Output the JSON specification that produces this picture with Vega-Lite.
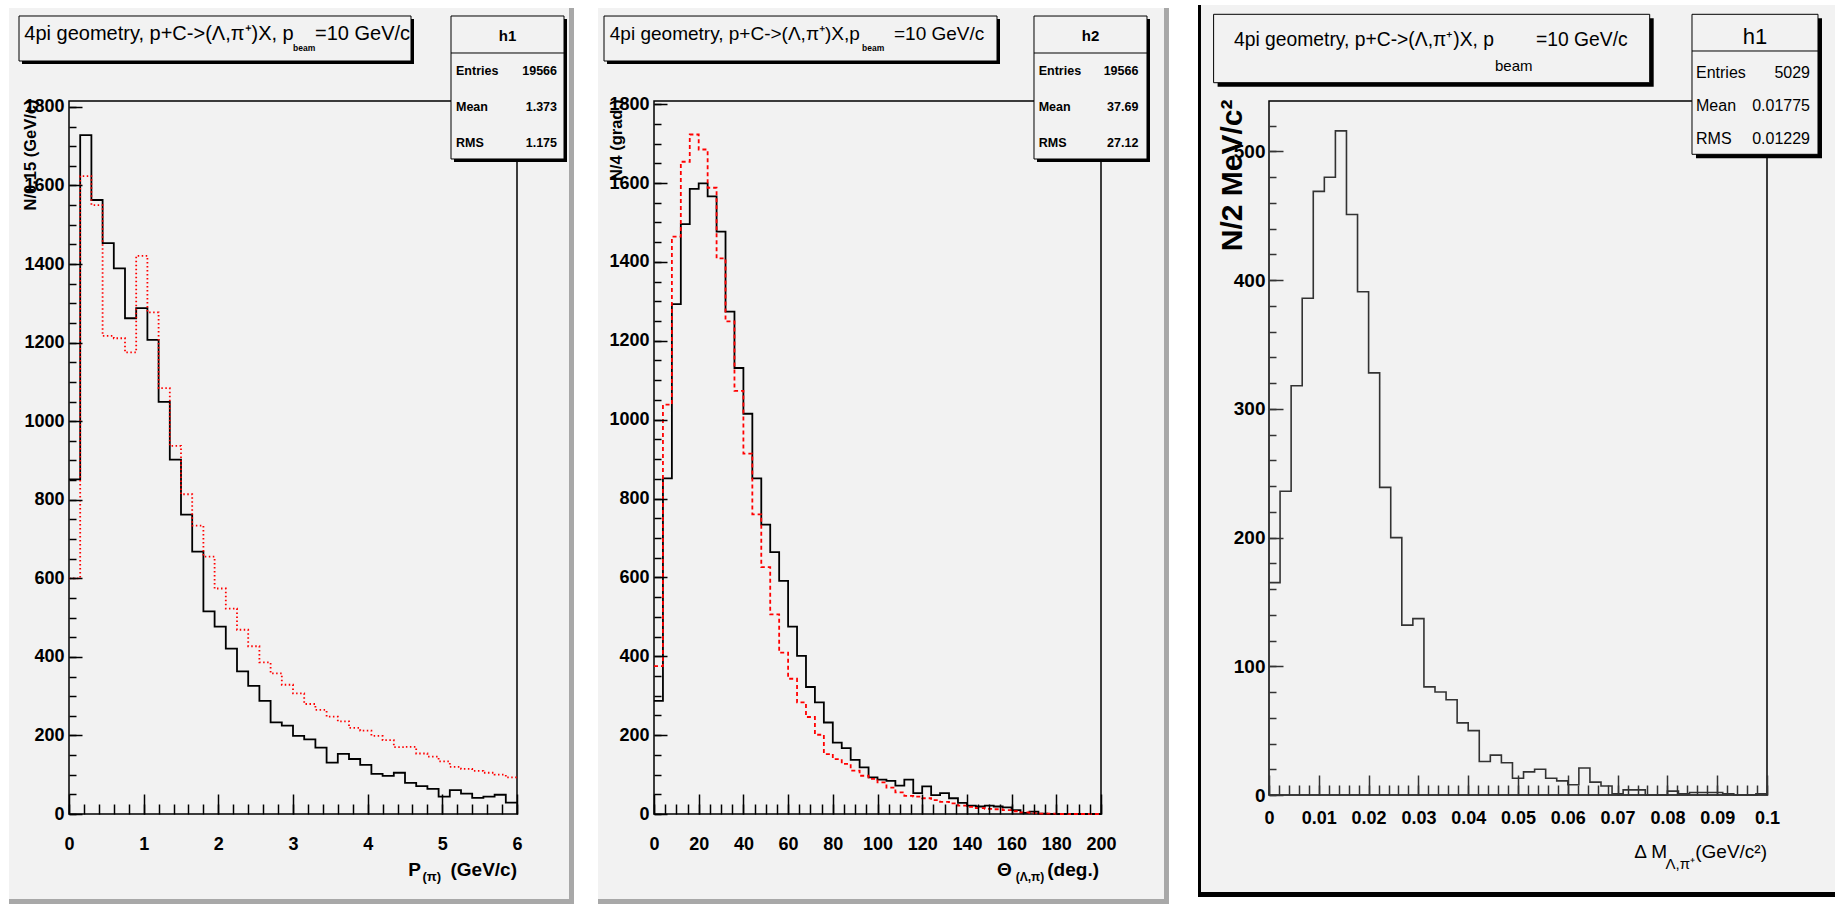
{
  "$schema": "https://vega.github.io/schema/vega-lite/v6.json",
  "background": "#ffffff",
  "padding": {"left": 8, "top": 4, "right": 0, "bottom": 5},
  "bounds": "flush",
  "spacing": 137,
  "config": {
    "view": {"stroke": null, "fill": null},
    "axis": {"domain": false, "grid": false, "tickColor": "#000", "tickWidth": 1.5, "labelColor": "#000", "titleColor": "#000"}
  },
  "datasets": {
    "p1_black": [{"p":0,"n":852},{"p":0.15,"n":1728},{"p":0.3,"n":1563},{"p":0.45,"n":1453},{"p":0.6,"n":1389},{"p":0.75,"n":1262},{"p":0.9,"n":1288},{"p":1.05,"n":1207},{"p":1.2,"n":1049},{"p":1.35,"n":902},{"p":1.5,"n":762},{"p":1.65,"n":668},{"p":1.8,"n":516},{"p":1.95,"n":477},{"p":2.1,"n":421},{"p":2.25,"n":363},{"p":2.4,"n":326},{"p":2.55,"n":288},{"p":2.7,"n":233},{"p":2.85,"n":225},{"p":3,"n":199},{"p":3.15,"n":190},{"p":3.3,"n":169},{"p":3.45,"n":131},{"p":3.6,"n":153},{"p":3.75,"n":140},{"p":3.9,"n":125},{"p":4.05,"n":102},{"p":4.2,"n":97},{"p":4.35,"n":105},{"p":4.5,"n":79},{"p":4.65,"n":71},{"p":4.8,"n":64},{"p":4.95,"n":44},{"p":5.1,"n":61},{"p":5.25,"n":52},{"p":5.4,"n":41},{"p":5.55,"n":44},{"p":5.7,"n":49},{"p":5.85,"n":29},{"p":6,"n":29}],
    "p1_red": [{"p":0,"n":600},{"p":0.15,"n":1624},{"p":0.3,"n":1550},{"p":0.45,"n":1217},{"p":0.6,"n":1211},{"p":0.75,"n":1175},{"p":0.9,"n":1421},{"p":1.05,"n":1277},{"p":1.2,"n":1084},{"p":1.35,"n":937},{"p":1.5,"n":814},{"p":1.65,"n":734},{"p":1.8,"n":655},{"p":1.95,"n":574},{"p":2.1,"n":523},{"p":2.25,"n":469},{"p":2.4,"n":427},{"p":2.55,"n":386},{"p":2.7,"n":358},{"p":2.85,"n":329},{"p":3,"n":307},{"p":3.15,"n":280},{"p":3.3,"n":265},{"p":3.45,"n":248},{"p":3.6,"n":236},{"p":3.75,"n":219},{"p":3.9,"n":212},{"p":4.05,"n":199},{"p":4.2,"n":188},{"p":4.35,"n":170},{"p":4.5,"n":171},{"p":4.65,"n":154},{"p":4.8,"n":146},{"p":4.95,"n":134},{"p":5.1,"n":120},{"p":5.25,"n":115},{"p":5.4,"n":110},{"p":5.55,"n":105},{"p":5.7,"n":100},{"p":5.85,"n":93},{"p":6,"n":93}],
    "p2_black": [{"t":0,"n":287},{"t":4,"n":851},{"t":8,"n":1293},{"t":12,"n":1496},{"t":16,"n":1585},{"t":20,"n":1599},{"t":24,"n":1566},{"t":28,"n":1477},{"t":32,"n":1274},{"t":36,"n":1131},{"t":40,"n":1015},{"t":44,"n":851},{"t":48,"n":734},{"t":52,"n":664},{"t":56,"n":591},{"t":60,"n":475},{"t":64,"n":401},{"t":68,"n":322},{"t":72,"n":283},{"t":76,"n":232},{"t":80,"n":181},{"t":84,"n":167},{"t":88,"n":137},{"t":92,"n":118},{"t":96,"n":93},{"t":100,"n":87},{"t":104,"n":84},{"t":108,"n":72},{"t":112,"n":87},{"t":116,"n":53},{"t":120,"n":70},{"t":124,"n":48},{"t":128,"n":53},{"t":132,"n":40},{"t":136,"n":28},{"t":140,"n":21},{"t":144,"n":19},{"t":148,"n":21},{"t":152,"n":19},{"t":156,"n":17},{"t":160,"n":10},{"t":164,"n":3},{"t":168,"n":6},{"t":172,"n":1},{"t":176,"n":0},{"t":180,"n":0},{"t":184,"n":0},{"t":188,"n":0},{"t":192,"n":0},{"t":196,"n":0},{"t":200,"n":0}],
    "p2_red": [{"t":0,"n":375},{"t":4,"n":1038},{"t":8,"n":1464},{"t":12,"n":1654},{"t":16,"n":1723},{"t":20,"n":1685},{"t":24,"n":1588},{"t":28,"n":1409},{"t":32,"n":1249},{"t":36,"n":1073},{"t":40,"n":914},{"t":44,"n":760},{"t":48,"n":626},{"t":52,"n":506},{"t":56,"n":409},{"t":60,"n":343},{"t":64,"n":283},{"t":68,"n":246},{"t":72,"n":201},{"t":76,"n":152},{"t":80,"n":139},{"t":84,"n":127},{"t":88,"n":110},{"t":92,"n":97},{"t":96,"n":89},{"t":100,"n":80},{"t":104,"n":67},{"t":108,"n":55},{"t":112,"n":46},{"t":116,"n":44},{"t":120,"n":40},{"t":124,"n":35},{"t":128,"n":31},{"t":132,"n":27},{"t":136,"n":21},{"t":140,"n":18},{"t":144,"n":15},{"t":148,"n":13},{"t":152,"n":12},{"t":156,"n":10},{"t":160,"n":7},{"t":164,"n":4},{"t":168,"n":2},{"t":172,"n":1},{"t":176,"n":1},{"t":180,"n":0},{"t":184,"n":0},{"t":188,"n":0},{"t":192,"n":0},{"t":196,"n":0},{"t":200,"n":0}],
    "p3": [{"m":0,"n":165},{"m":0.002222,"n":236},{"m":0.004444,"n":318},{"m":0.006667,"n":386},{"m":0.008889,"n":469},{"m":0.011111,"n":480},{"m":0.013333,"n":516},{"m":0.015556,"n":451},{"m":0.017778,"n":391},{"m":0.02,"n":328},{"m":0.022222,"n":239},{"m":0.024444,"n":200},{"m":0.026667,"n":132},{"m":0.028889,"n":137},{"m":0.031111,"n":84},{"m":0.033333,"n":80},{"m":0.035556,"n":74},{"m":0.037778,"n":56},{"m":0.04,"n":50},{"m":0.042222,"n":26},{"m":0.044444,"n":31},{"m":0.046667,"n":25},{"m":0.048889,"n":13},{"m":0.051111,"n":18},{"m":0.053333,"n":20},{"m":0.055556,"n":13},{"m":0.057778,"n":11},{"m":0.06,"n":8},{"m":0.062222,"n":21},{"m":0.064444,"n":10},{"m":0.066667,"n":7},{"m":0.068889,"n":1},{"m":0.071111,"n":4},{"m":0.073333,"n":4},{"m":0.075556,"n":0},{"m":0.077778,"n":0},{"m":0.08,"n":3},{"m":0.082222,"n":1},{"m":0.084444,"n":2},{"m":0.086667,"n":2},{"m":0.088889,"n":2},{"m":0.091111,"n":1},{"m":0.093333,"n":0},{"m":0.095556,"n":0},{"m":0.097778,"n":1},{"m":0.1,"n":1}]
  },
  "hconcat": [
    {
      "width": 448, "height": 713,
      "resolve": {"axis": {"x": "independent", "y": "independent"}},
      "layer": [
        {"data": {"values": [{}]}, "mark": {"type": "rect", "fill": "#a8a8a8", "clip": false}, "encoding": {"x": {"datum": -0.8036, "type": "quantitative", "axis": null}, "x2": {"datum": 6.7634}, "y": {"datum": 2051.7, "type": "quantitative", "axis": null}, "y2": {"datum": -229.1}}},
        {"data": {"values": [{}]}, "mark": {"type": "rect", "fill": "#f2f2f2", "clip": false}, "encoding": {"x": {"datum": -0.8036, "type": "quantitative", "axis": null}, "x2": {"datum": 6.6964}, "y": {"datum": 2051.7, "type": "quantitative", "axis": null}, "y2": {"datum": -216.4}}},
        {"data": {"values": [{}]}, "mark": {"type": "rect", "fill": "#000", "clip": false}, "encoding": {"x": {"datum": -0.6295, "type": "quantitative", "axis": null}, "x2": {"datum": 4.6205}, "y": {"datum": 2023.7, "type": "quantitative", "axis": null}, "y2": {"datum": 1909.2}}},
        {"data": {"values": [{}]}, "mark": {"type": "rect", "fill": "#f2f2f2", "stroke": "#000", "strokeWidth": 1, "clip": false}, "encoding": {"x": {"datum": -0.6696, "type": "quantitative", "axis": null}, "x2": {"datum": 4.5804}, "y": {"datum": 2031.4, "type": "quantitative", "axis": null}, "y2": {"datum": 1916.8}}},
        {"data": {"values": [{}]}, "mark": {"type": "rect", "filled": false, "stroke": "#000", "strokeWidth": 1.5, "clip": false},
         "encoding": {
           "x": {"datum": 0, "type": "quantitative", "axis": {"orient": "bottom", "zindex": 1, "values": [0,0.2,0.4,0.6,0.8,1,1.2,1.4,1.6,1.8,2,2.2,2.4,2.6,2.8,3,3.2,3.4,3.6,3.8,4,4.2,4.4,4.6,4.8,5,5.2,5.4,5.6,5.8,6], "labels": false, "title": null, "domain": false, "grid": false, "offset": -10, "tickSize": 10, "tickColor": "#000", "tickWidth": 1.5}},
           "x2": {"datum": 6},
           "y": {"datum": 0, "type": "quantitative", "axis": {"orient": "left", "zindex": 1, "values": [0,50,100,150,200,250,300,350,400,450,500,550,600,650,700,750,800,850,900,950,1000,1050,1100,1150,1200,1250,1300,1350,1400,1450,1500,1550,1600,1650,1700,1750,1800], "labels": false, "title": null, "domain": false, "grid": false, "offset": -7, "tickSize": 7, "tickColor": "#000", "tickWidth": 1.5}},
           "y2": {"datum": 1815}}},
        {"data": {"name": "p1_black"}, "mark": {"type": "line", "interpolate": "step-after", "color": "#000", "strokeWidth": 1.8},
         "encoding": {
           "x": {"field": "p", "type": "quantitative", "scale": {"domain": [0, 6], "nice": false, "zero": false},
                 "axis": {"orient": "bottom", "zindex": 1, "values": [0,1,2,3,4,5,6], "title": null, "format": "d", "domain": false, "grid": false, "offset": -20, "tickSize": 20, "tickColor": "#000", "tickWidth": 1.5,
                          "labelPadding": 21.7, "labelFont": "Liberation Sans", "labelFontSize": 18, "labelFontWeight": "bold", "labelColor": "#000", "labelOverlap": false, "labelFlush": false}},
           "y": {"field": "n", "type": "quantitative", "scale": {"domain": [0, 1815], "nice": false, "zero": false},
                 "axis": {"orient": "left", "zindex": 1, "values": [0,200,400,600,800,1000,1200,1400,1600,1800], "format": "d", "domain": false, "grid": false, "offset": -13, "tickSize": 13, "tickColor": "#000", "tickWidth": 1.5,
                          "labelPadding": 5, "labelFont": "Liberation Sans", "labelFontSize": 18, "labelFontWeight": "bold", "labelColor": "#000", "labelOverlap": false, "labelFlush": false,
                          "title": "N/0.15 (GeV/c)", "titleFont": "Liberation Sans", "titleFontSize": 16.5, "titleFontWeight": "bold", "titleColor": "#000", "titleAngle": 270, "titleAlign": "right", "titleBaseline": "middle", "titleX": -52, "titleY": -2}}
         }},
        {"data": {"name": "p1_red"}, "mark": {"type": "line", "interpolate": "step-after", "color": "#ff0000", "strokeWidth": 1.8, "strokeDash": [1.5, 2.5]},
         "encoding": {"x": {"field": "p", "type": "quantitative", "axis": null}, "y": {"field": "n", "type": "quantitative", "axis": null}}},
        {"data": {"values": [{}]}, "mark": {"type": "rect", "fill": "#000", "clip": false}, "encoding": {"x": {"datum": 5.1563, "type": "quantitative", "axis": null}, "x2": {"datum": 6.6696}, "y": {"datum": 2023.7, "type": "quantitative", "axis": null}, "y2": {"datum": 1659.7}}},
        {"data": {"values": [{}]}, "mark": {"type": "rect", "fill": "#f2f2f2", "stroke": "#000", "strokeWidth": 1, "clip": false}, "encoding": {"x": {"datum": 5.1161, "type": "quantitative", "axis": null}, "x2": {"datum": 6.6295}, "y": {"datum": 2031.4, "type": "quantitative", "axis": null}, "y2": {"datum": 1667.4}}},
        {"data": {"values": [{}]}, "mark": {"type": "rule", "color": "#000", "strokeWidth": 1, "clip": false}, "encoding": {"x": {"datum": 5.1161, "type": "quantitative", "axis": null}, "x2": {"datum": 6.6295}, "y": {"datum": 1937.2, "type": "quantitative", "axis": null}}},
        {"data": {"values": [{}]}, "mark": {"type": "text", "text": "4pi geometry, p+C->(Λ,π⁺)X, p", "align": "left", "baseline": "alphabetic", "dx": -44.7, "dy": -61, "font": "Liberation Sans", "fontSize": 20, "color": "#000", "clip": false}, "encoding": {"x": {"datum": 0, "type": "quantitative", "axis": null}, "y": {"datum": 1815, "type": "quantitative", "axis": null}}},
        {"data": {"values": [{}]}, "mark": {"type": "text", "text": "beam", "align": "left", "baseline": "alphabetic", "dx": 224, "dy": -50, "font": "Liberation Sans", "fontSize": 8.5, "fontWeight": "bold", "color": "#000", "clip": false}, "encoding": {"x": {"datum": 0, "type": "quantitative", "axis": null}, "y": {"datum": 1815, "type": "quantitative", "axis": null}}},
        {"data": {"values": [{}]}, "mark": {"type": "text", "text": "=10 GeV/c", "align": "left", "baseline": "alphabetic", "dx": 246, "dy": -61, "font": "Liberation Sans", "fontSize": 20, "color": "#000", "clip": false}, "encoding": {"x": {"datum": 0, "type": "quantitative", "axis": null}, "y": {"datum": 1815, "type": "quantitative", "axis": null}}},
        {"data": {"values": [{}]}, "mark": {"type": "text", "text": "h1", "align": "center", "baseline": "alphabetic", "dx": -9.5, "dy": -60, "font": "Liberation Sans", "fontSize": 15, "fontWeight": "bold", "color": "#000", "clip": false}, "encoding": {"x": {"datum": 6, "type": "quantitative", "axis": null}, "y": {"datum": 1815, "type": "quantitative", "axis": null}}},
        {"data": {"values": [{}]}, "mark": {"type": "text", "text": ["Entries", "Mean", "RMS"], "lineHeight": 35.8, "align": "left", "baseline": "alphabetic", "dx": -61, "dy": -26, "font": "Liberation Sans", "fontSize": 12.5, "fontWeight": "bold", "color": "#000", "clip": false}, "encoding": {"x": {"datum": 6, "type": "quantitative", "axis": null}, "y": {"datum": 1815, "type": "quantitative", "axis": null}}},
        {"data": {"values": [{}]}, "mark": {"type": "text", "text": ["19566", "1.373", "1.175"], "lineHeight": 35.8, "align": "right", "baseline": "alphabetic", "dx": 40, "dy": -26, "font": "Liberation Sans", "fontSize": 12.5, "fontWeight": "bold", "color": "#000", "clip": false}, "encoding": {"x": {"datum": 6, "type": "quantitative", "axis": null}, "y": {"datum": 1815, "type": "quantitative", "axis": null}}},
        {"data": {"values": [{}]}, "mark": {"type": "text", "text": "(GeV/c)", "align": "right", "baseline": "alphabetic", "dx": 0, "dy": 61.7, "font": "Liberation Sans", "fontSize": 19, "fontWeight": "bold", "color": "#000", "clip": false}, "encoding": {"x": {"datum": 6, "type": "quantitative", "axis": null}, "y": {"datum": 0, "type": "quantitative", "axis": null}}},
        {"data": {"values": [{}]}, "mark": {"type": "text", "text": "(π)", "align": "right", "baseline": "alphabetic", "dx": -76, "dy": 67, "font": "Liberation Sans", "fontSize": 13, "fontWeight": "bold", "color": "#000", "clip": false}, "encoding": {"x": {"datum": 6, "type": "quantitative", "axis": null}, "y": {"datum": 0, "type": "quantitative", "axis": null}}},
        {"data": {"values": [{}]}, "mark": {"type": "text", "text": "P", "align": "right", "baseline": "alphabetic", "dx": -96, "dy": 61.7, "font": "Liberation Sans", "fontSize": 19, "fontWeight": "bold", "color": "#000", "clip": false}, "encoding": {"x": {"datum": 6, "type": "quantitative", "axis": null}, "y": {"datum": 0, "type": "quantitative", "axis": null}}}
      ]
    },
    {
      "width": 478, "height": 713,
      "resolve": {"axis": {"x": "independent", "y": "independent"}},
      "layer": [
        {"data": {"values": [{}]}, "mark": {"type": "rect", "fill": "#a8a8a8", "clip": false}, "encoding": {"x": {"datum": -25.056, "type": "quantitative", "axis": null}, "x2": {"datum": 230.42}, "y": {"datum": 2043.8, "type": "quantitative", "axis": null}, "y2": {"datum": -228.2}}},
        {"data": {"values": [{}]}, "mark": {"type": "rect", "fill": "#f2f2f2", "clip": false}, "encoding": {"x": {"datum": -25.056, "type": "quantitative", "axis": null}, "x2": {"datum": 228.19}, "y": {"datum": 2043.8, "type": "quantitative", "axis": null}, "y2": {"datum": -215.5}}},
        {"data": {"values": [{}]}, "mark": {"type": "rect", "fill": "#000", "clip": false}, "encoding": {"x": {"datum": -21.03, "type": "quantitative", "axis": null}, "x2": {"datum": 154.81}, "y": {"datum": 2015.9, "type": "quantitative", "axis": null}, "y2": {"datum": 1901.8}}},
        {"data": {"values": [{}]}, "mark": {"type": "rect", "fill": "#f2f2f2", "stroke": "#000", "strokeWidth": 1, "clip": false}, "encoding": {"x": {"datum": -22.37, "type": "quantitative", "axis": null}, "x2": {"datum": 153.47}, "y": {"datum": 2023.5, "type": "quantitative", "axis": null}, "y2": {"datum": 1909.4}}},
        {"data": {"values": [{}]}, "mark": {"type": "rect", "filled": false, "stroke": "#000", "strokeWidth": 1.5, "clip": false},
         "encoding": {
           "x": {"datum": 0, "type": "quantitative", "axis": {"orient": "bottom", "zindex": 1, "values": [0,5,10,15,20,25,30,35,40,45,50,55,60,65,70,75,80,85,90,95,100,105,110,115,120,125,130,135,140,145,150,155,160,165,170,175,180,185,190,195,200], "labels": false, "title": null, "domain": false, "grid": false, "offset": -10, "tickSize": 10, "tickColor": "#000", "tickWidth": 1.5}},
           "x2": {"datum": 200},
           "y": {"datum": 0, "type": "quantitative", "axis": {"orient": "left", "zindex": 1, "values": [0,50,100,150,200,250,300,350,400,450,500,550,600,650,700,750,800,850,900,950,1000,1050,1100,1150,1200,1250,1300,1350,1400,1450,1500,1550,1600,1650,1700,1750,1800], "labels": false, "title": null, "domain": false, "grid": false, "offset": -7, "tickSize": 7, "tickColor": "#000", "tickWidth": 1.5}},
           "y2": {"datum": 1808}}},
        {"data": {"name": "p2_black"}, "mark": {"type": "line", "interpolate": "step-after", "color": "#000", "strokeWidth": 1.8},
         "encoding": {
           "x": {"field": "t", "type": "quantitative", "scale": {"domain": [0, 213.87], "nice": false, "zero": false},
                 "axis": {"orient": "bottom", "zindex": 1, "values": [0,20,40,60,80,100,120,140,160,180,200], "title": null, "format": "d", "domain": false, "grid": false, "offset": -20, "tickSize": 20, "tickColor": "#000", "tickWidth": 1.5,
                          "labelPadding": 21.7, "labelFont": "Liberation Sans", "labelFontSize": 18, "labelFontWeight": "bold", "labelColor": "#000", "labelOverlap": false, "labelFlush": false}},
           "y": {"field": "n", "type": "quantitative", "scale": {"domain": [0, 1808], "nice": false, "zero": false},
                 "axis": {"orient": "left", "zindex": 1, "values": [0,200,400,600,800,1000,1200,1400,1600,1800], "format": "d", "domain": false, "grid": false, "offset": -13, "tickSize": 13, "tickColor": "#000", "tickWidth": 1.5,
                          "labelPadding": 5, "labelFont": "Liberation Sans", "labelFontSize": 18, "labelFontWeight": "bold", "labelColor": "#000", "labelOverlap": false, "labelFlush": false,
                          "title": "N/4 (grad.)", "titleFont": "Liberation Sans", "titleFontSize": 16.5, "titleFontWeight": "bold", "titleColor": "#000", "titleAngle": 270, "titleAlign": "right", "titleBaseline": "middle", "titleX": -51, "titleY": -2}}
         }},
        {"data": {"name": "p2_red"}, "mark": {"type": "line", "interpolate": "step-after", "color": "#ff0000", "strokeWidth": 1.8, "strokeDash": [4, 3]},
         "encoding": {"x": {"field": "t", "type": "quantitative", "axis": null}, "y": {"field": "n", "type": "quantitative", "axis": null}}},
        {"data": {"values": [{}]}, "mark": {"type": "rect", "fill": "#000", "clip": false}, "encoding": {"x": {"datum": 171.36, "type": "quantitative", "axis": null}, "x2": {"datum": 221.92}, "y": {"datum": 2015.9, "type": "quantitative", "axis": null}, "y2": {"datum": 1653.3}}},
        {"data": {"values": [{}]}, "mark": {"type": "rect", "fill": "#f2f2f2", "stroke": "#000", "strokeWidth": 1, "clip": false}, "encoding": {"x": {"datum": 170.02, "type": "quantitative", "axis": null}, "x2": {"datum": 220.58}, "y": {"datum": 2023.5, "type": "quantitative", "axis": null}, "y2": {"datum": 1660.9}}},
        {"data": {"values": [{}]}, "mark": {"type": "rule", "color": "#000", "strokeWidth": 1, "clip": false}, "encoding": {"x": {"datum": 170.02, "type": "quantitative", "axis": null}, "x2": {"datum": 220.58}, "y": {"datum": 1929.7, "type": "quantitative", "axis": null}}},
        {"data": {"values": [{}]}, "mark": {"type": "text", "text": "4pi geometry, p+C->(Λ,π⁺)X,p", "align": "left", "baseline": "alphabetic", "dx": -44.2, "dy": -61, "font": "Liberation Sans", "fontSize": 19, "color": "#000", "clip": false}, "encoding": {"x": {"datum": 0, "type": "quantitative", "axis": null}, "y": {"datum": 1808, "type": "quantitative", "axis": null}}},
        {"data": {"values": [{}]}, "mark": {"type": "text", "text": "beam", "align": "left", "baseline": "alphabetic", "dx": 208, "dy": -50, "font": "Liberation Sans", "fontSize": 8.5, "fontWeight": "bold", "color": "#000", "clip": false}, "encoding": {"x": {"datum": 0, "type": "quantitative", "axis": null}, "y": {"datum": 1808, "type": "quantitative", "axis": null}}},
        {"data": {"values": [{}]}, "mark": {"type": "text", "text": "=10 GeV/c", "align": "left", "baseline": "alphabetic", "dx": 240, "dy": -61, "font": "Liberation Sans", "fontSize": 19, "color": "#000", "clip": false}, "encoding": {"x": {"datum": 0, "type": "quantitative", "axis": null}, "y": {"datum": 1808, "type": "quantitative", "axis": null}}},
        {"data": {"values": [{}]}, "mark": {"type": "text", "text": "h2", "align": "center", "baseline": "alphabetic", "dx": -10.5, "dy": -60, "font": "Liberation Sans", "fontSize": 15, "fontWeight": "bold", "color": "#000", "clip": false}, "encoding": {"x": {"datum": 200, "type": "quantitative", "axis": null}, "y": {"datum": 1808, "type": "quantitative", "axis": null}}},
        {"data": {"values": [{}]}, "mark": {"type": "text", "text": ["Entries", "Mean", "RMS"], "lineHeight": 35.8, "align": "left", "baseline": "alphabetic", "dx": -62.3, "dy": -26, "font": "Liberation Sans", "fontSize": 12.5, "fontWeight": "bold", "color": "#000", "clip": false}, "encoding": {"x": {"datum": 200, "type": "quantitative", "axis": null}, "y": {"datum": 1808, "type": "quantitative", "axis": null}}},
        {"data": {"values": [{}]}, "mark": {"type": "text", "text": ["19566", "37.69", "27.12"], "lineHeight": 35.8, "align": "right", "baseline": "alphabetic", "dx": 37.4, "dy": -26, "font": "Liberation Sans", "fontSize": 12.5, "fontWeight": "bold", "color": "#000", "clip": false}, "encoding": {"x": {"datum": 200, "type": "quantitative", "axis": null}, "y": {"datum": 1808, "type": "quantitative", "axis": null}}},
        {"data": {"values": [{}]}, "mark": {"type": "text", "text": "(deg.)", "align": "right", "baseline": "alphabetic", "dx": -2, "dy": 61.7, "font": "Liberation Sans", "fontSize": 19, "fontWeight": "bold", "color": "#000", "clip": false}, "encoding": {"x": {"datum": 200, "type": "quantitative", "axis": null}, "y": {"datum": 0, "type": "quantitative", "axis": null}}},
        {"data": {"values": [{}]}, "mark": {"type": "text", "text": "(Λ,π)", "align": "right", "baseline": "alphabetic", "dx": -56.7, "dy": 67, "font": "Liberation Sans", "fontSize": 12, "fontWeight": "bold", "color": "#000", "clip": false}, "encoding": {"x": {"datum": 200, "type": "quantitative", "axis": null}, "y": {"datum": 0, "type": "quantitative", "axis": null}}},
        {"data": {"values": [{}]}, "mark": {"type": "text", "text": "Θ", "align": "right", "baseline": "alphabetic", "dx": -89.3, "dy": 61.7, "font": "Liberation Sans", "fontSize": 19, "fontWeight": "bold", "color": "#000", "clip": false}, "encoding": {"x": {"datum": 200, "type": "quantitative", "axis": null}, "y": {"datum": 0, "type": "quantitative", "axis": null}}}
      ]
    },
    {
      "width": 498, "height": 694,
      "resolve": {"axis": {"x": "independent", "y": "independent"}},
      "layer": [
        {"data": {"values": [{}]}, "mark": {"type": "rect", "fill": "#000", "clip": false}, "encoding": {"x": {"datum": -0.014257, "type": "quantitative", "axis": null}, "x2": {"datum": 0.113855}, "y": {"datum": 613.79, "type": "quantitative", "axis": null}, "y2": {"datum": -79.25}}},
        {"data": {"values": [{}]}, "mark": {"type": "rect", "fill": "#f2f2f2", "clip": false}, "encoding": {"x": {"datum": -0.013655, "type": "quantitative", "axis": null}, "x2": {"datum": 0.113855}, "y": {"datum": 613.79, "type": "quantitative", "axis": null}, "y2": {"datum": -75.37}}},
        {"data": {"values": [{}]}, "mark": {"type": "rect", "fill": "#000", "clip": false}, "encoding": {"x": {"datum": -0.010321, "type": "quantitative", "axis": null}, "x2": {"datum": 0.077248}, "y": {"datum": 603.45, "type": "quantitative", "axis": null}, "y2": {"datum": 550.31}}},
        {"data": {"values": [{}]}, "mark": {"type": "rect", "fill": "#f2f2f2", "stroke": "#000", "strokeWidth": 1, "clip": false}, "encoding": {"x": {"datum": -0.011124, "type": "quantitative", "axis": null}, "x2": {"datum": 0.076445}, "y": {"datum": 606.56, "type": "quantitative", "axis": null}, "y2": {"datum": 553.42}}},
        {"data": {"values": [{}]}, "mark": {"type": "rect", "filled": false, "stroke": "#000", "strokeWidth": 1.5, "clip": false},
         "encoding": {
           "x": {"datum": 0, "type": "quantitative", "axis": {"orient": "bottom", "zindex": 1, "values": [0,0.002,0.004,0.006,0.008,0.01,0.012,0.014,0.016,0.018,0.02,0.022,0.024,0.026,0.028,0.03,0.032,0.034,0.036,0.038,0.04,0.042,0.044,0.046,0.048,0.05,0.052,0.054,0.056,0.058,0.06,0.062,0.064,0.066,0.068,0.07,0.072,0.074,0.076,0.078,0.08,0.082,0.084,0.086,0.088,0.09,0.092,0.094,0.096,0.098,0.1], "labels": false, "title": null, "domain": false, "grid": false, "offset": -10, "tickSize": 10, "tickColor": "#333", "tickWidth": 1.5}},
           "x2": {"datum": 0.1},
           "y": {"datum": 0, "type": "quantitative", "axis": {"orient": "left", "zindex": 1, "values": [0,20,40,60,80,100,120,140,160,180,200,220,240,260,280,300,320,340,360,380,400,420,440,460,480,500,520], "labels": false, "title": null, "domain": false, "grid": false, "offset": -7, "tickSize": 7, "tickColor": "#333", "tickWidth": 1.5}},
           "y2": {"datum": 539.2}}},
        {"data": {"name": "p3"}, "mark": {"type": "line", "interpolate": "step-after", "color": "#333333", "strokeWidth": 1.6},
         "encoding": {
           "x": {"field": "m", "type": "quantitative", "scale": {"domain": [0, 0.1], "nice": false, "zero": false},
                 "axis": {"orient": "bottom", "zindex": 1, "values": [0,0.01,0.02,0.03,0.04,0.05,0.06,0.07,0.08,0.09,0.1], "title": null, "format": "~g", "domain": false, "grid": false, "offset": -20, "tickSize": 20, "tickColor": "#333", "tickWidth": 1.5,
                          "labelPadding": 14, "labelFont": "Liberation Sans", "labelFontSize": 18, "labelFontWeight": "bold", "labelColor": "#000", "labelOverlap": false, "labelFlush": false}},
           "y": {"field": "n", "type": "quantitative", "scale": {"domain": [0, 539.2], "nice": false, "zero": false},
                 "axis": {"orient": "left", "zindex": 1, "values": [0,100,200,300,400,500], "format": "d", "domain": false, "grid": false, "offset": -14, "tickSize": 14, "tickColor": "#333", "tickWidth": 1.5,
                          "labelPadding": 4, "labelFont": "Liberation Sans", "labelFontSize": 19, "labelFontWeight": "bold", "labelColor": "#000", "labelOverlap": false, "labelFlush": false,
                          "title": "N/2 MeV/c²", "titleFont": "Liberation Sans", "titleFontSize": 30, "titleFontWeight": "bold", "titleColor": "#000", "titleAngle": 270, "titleAlign": "right", "titleBaseline": "middle", "titleX": -51, "titleY": -2}}
         }},
        {"data": {"values": [{}]}, "mark": {"type": "rect", "fill": "#000", "clip": false}, "encoding": {"x": {"datum": 0.085741, "type": "quantitative", "axis": null}, "x2": {"datum": 0.111042}, "y": {"datum": 603.45, "type": "quantitative", "axis": null}, "y2": {"datum": 494.68}}},
        {"data": {"values": [{}]}, "mark": {"type": "rect", "fill": "#f2f2f2", "stroke": "#000", "strokeWidth": 1, "clip": false}, "encoding": {"x": {"datum": 0.084938, "type": "quantitative", "axis": null}, "x2": {"datum": 0.110239}, "y": {"datum": 606.56, "type": "quantitative", "axis": null}, "y2": {"datum": 497.79}}},
        {"data": {"values": [{}]}, "mark": {"type": "rule", "color": "#000", "strokeWidth": 1, "clip": false}, "encoding": {"x": {"datum": 0.084938, "type": "quantitative", "axis": null}, "x2": {"datum": 0.110239}, "y": {"datum": 578.05, "type": "quantitative", "axis": null}}},
        {"data": {"values": [{}]}, "mark": {"type": "text", "text": "4pi geometry, p+C->(Λ,π⁺)X, p", "align": "left", "baseline": "alphabetic", "dx": -35, "dy": -55, "font": "Liberation Sans", "fontSize": 19.3, "color": "#000", "clip": false}, "encoding": {"x": {"datum": 0, "type": "quantitative", "axis": null}, "y": {"datum": 539.2, "type": "quantitative", "axis": null}}},
        {"data": {"values": [{}]}, "mark": {"type": "text", "text": "beam", "align": "left", "baseline": "alphabetic", "dx": 226, "dy": -30, "font": "Liberation Sans", "fontSize": 15, "color": "#000", "clip": false}, "encoding": {"x": {"datum": 0, "type": "quantitative", "axis": null}, "y": {"datum": 539.2, "type": "quantitative", "axis": null}}},
        {"data": {"values": [{}]}, "mark": {"type": "text", "text": "=10 GeV/c", "align": "left", "baseline": "alphabetic", "dx": 267, "dy": -55, "font": "Liberation Sans", "fontSize": 19.3, "color": "#000", "clip": false}, "encoding": {"x": {"datum": 0, "type": "quantitative", "axis": null}, "y": {"datum": 539.2, "type": "quantitative", "axis": null}}},
        {"data": {"values": [{}]}, "mark": {"type": "text", "text": "h1", "align": "center", "baseline": "alphabetic", "dx": -12, "dy": -57, "font": "Liberation Sans", "fontSize": 22, "color": "#000", "clip": false}, "encoding": {"x": {"datum": 0.1, "type": "quantitative", "axis": null}, "y": {"datum": 539.2, "type": "quantitative", "axis": null}}},
        {"data": {"values": [{}]}, "mark": {"type": "text", "text": ["Entries", "Mean", "RMS"], "lineHeight": 33.3, "align": "left", "baseline": "alphabetic", "dx": -71, "dy": -23.3, "font": "Liberation Sans", "fontSize": 16, "color": "#000", "clip": false}, "encoding": {"x": {"datum": 0.1, "type": "quantitative", "axis": null}, "y": {"datum": 539.2, "type": "quantitative", "axis": null}}},
        {"data": {"values": [{}]}, "mark": {"type": "text", "text": ["5029", "0.01775", "0.01229"], "lineHeight": 33.3, "align": "right", "baseline": "alphabetic", "dx": 43, "dy": -23.3, "font": "Liberation Sans", "fontSize": 16, "color": "#000", "clip": false}, "encoding": {"x": {"datum": 0.1, "type": "quantitative", "axis": null}, "y": {"datum": 539.2, "type": "quantitative", "axis": null}}},
        {"data": {"values": [{}]}, "mark": {"type": "text", "text": "(GeV/c²)", "align": "right", "baseline": "alphabetic", "dx": 0, "dy": 62.7, "font": "Liberation Sans", "fontSize": 19, "color": "#000", "clip": false}, "encoding": {"x": {"datum": 0.1, "type": "quantitative", "axis": null}, "y": {"datum": 0, "type": "quantitative", "axis": null}}},
        {"data": {"values": [{}]}, "mark": {"type": "text", "text": "Λ,π⁺", "align": "right", "baseline": "alphabetic", "dx": -72, "dy": 74, "font": "Liberation Sans", "fontSize": 15, "color": "#000", "clip": false}, "encoding": {"x": {"datum": 0.1, "type": "quantitative", "axis": null}, "y": {"datum": 0, "type": "quantitative", "axis": null}}},
        {"data": {"values": [{}]}, "mark": {"type": "text", "text": "Δ M", "align": "right", "baseline": "alphabetic", "dx": -100, "dy": 62.7, "font": "Liberation Sans", "fontSize": 19, "color": "#000", "clip": false}, "encoding": {"x": {"datum": 0.1, "type": "quantitative", "axis": null}, "y": {"datum": 0, "type": "quantitative", "axis": null}}}
      ]
    }
  ]
}
